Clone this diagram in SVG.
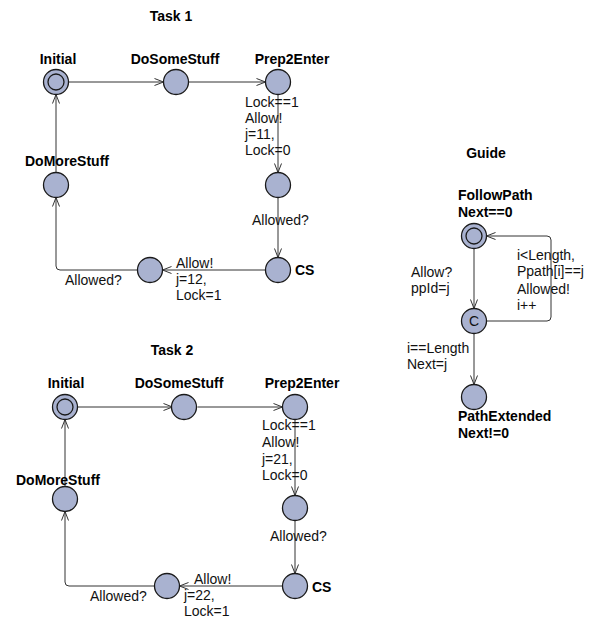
<svg xmlns="http://www.w3.org/2000/svg" width="589" height="619" viewBox="0 0 589 619">
  <style>
    .loc { fill: #a9b2d0; stroke: #1a1a1a; stroke-width: 1.3; }
    .edge { fill: none; stroke: #333; stroke-width: 1; marker-end: url(#arrow); }
    .name { font-family: "Liberation Sans", Arial, sans-serif; font-size: 14px; font-weight: bold; fill: #000; }
    .lbl { font-family: "Liberation Sans", Arial, sans-serif; font-size: 14px; fill: #111; }
    .title { font-family: "Liberation Sans", Arial, sans-serif; font-size: 14px; font-weight: bold; fill: #000; text-anchor: middle; }
  </style>
  <defs>
    <marker id="arrow" markerWidth="12" markerHeight="10" refX="0" refY="0" viewBox="-11 -5 12 10" orient="auto" markerUnits="userSpaceOnUse">
      <path d="M-9,-3.5 L0,0 L-9,3.5" fill="none" stroke="#333" stroke-width="1"/>
    </marker>
  </defs>
  <rect width="589" height="619" fill="#fff"/>

  <!-- Task 1 -->
  <text class="title" x="171" y="21">Task 1</text>
  <g id="connectors">
    <path class="edge" d="M68.5,82 H163.5"/>
    <path class="edge" d="M188.5,82 H265.5"/>
    <path class="edge" d="M278,94.5 V172.5"/>
    <path class="edge" d="M278,197.5 V257.5"/>
    <path class="edge" d="M265.5,270 H162.5"/>
    <path class="edge" d="M137.5,270 H60 Q56,270 56,266 V197.5"/>
    <path class="edge" d="M56,172.5 V94.5"/>

    <path class="edge" d="M77.5,407 H172.5"/>
    <path class="edge" d="M197.5,407 H282.5"/>
    <path class="edge" d="M295,419.5 V495.5"/>
    <path class="edge" d="M295,520.5 V573.5"/>
    <path class="edge" d="M282.5,586 H179.5"/>
    <path class="edge" d="M154.5,586 H69 Q65,586 65,582 V511.5"/>
    <path class="edge" d="M65,486.5 V419.5"/>

    <path class="edge" d="M474,248.5 V308.5"/>
    <path class="edge" d="M486.5,321 H547 Q551,321 551,317 V240 Q551,236 547,236 H486.5"/>
    <path class="edge" d="M474,333.5 V384.5"/>
  </g>

  <g id="t1-labels">
    <text class="lbl" x="245" y="107">Lock==1</text>
    <text class="lbl" x="245" y="123">Allow!</text>
    <text class="lbl" x="245" y="139">j=11,</text>
    <text class="lbl" x="245" y="155">Lock=0</text>
    <text class="lbl" x="252" y="225">Allowed?</text>
    <text class="lbl" x="176" y="268">Allow!</text>
    <text class="lbl" x="176" y="284">j=12,</text>
    <text class="lbl" x="176" y="300">Lock=1</text>
    <text class="lbl" x="65" y="285">Allowed?</text>
  </g>

  <g id="t1-initial">
    <circle class="loc" cx="56" cy="82" r="12.5"/>
    <circle class="loc" cx="56" cy="82" r="8"/>
    <text class="name" x="58" y="64" text-anchor="middle">Initial</text>
  </g>
  <g id="t1-dosomestuff">
    <circle class="loc" cx="176" cy="82" r="12.5"/>
    <text class="name" x="175" y="64" text-anchor="middle">DoSomeStuff</text>
  </g>
  <g id="t1-prep2enter">
    <circle class="loc" cx="278" cy="82" r="12.5"/>
    <text class="name" x="292" y="64" text-anchor="middle">Prep2Enter</text>
  </g>
  <g id="t1-wait">
    <circle class="loc" cx="278" cy="185" r="12.5"/>
  </g>
  <g id="t1-cs">
    <circle class="loc" cx="278" cy="270" r="12.5"/>
    <text class="name" x="295" y="275">CS</text>
  </g>
  <g id="t1-leave">
    <circle class="loc" cx="150" cy="270" r="12.5"/>
  </g>
  <g id="t1-domorestuff">
    <circle class="loc" cx="56" cy="185" r="12.5"/>
    <text class="name" x="67" y="166" text-anchor="middle">DoMoreStuff</text>
  </g>

  <!-- Task 2 -->
  <text class="title" x="172" y="355">Task 2</text>
  <g id="t2-labels">
    <text class="lbl" x="262" y="430">Lock==1</text>
    <text class="lbl" x="262" y="447">Allow!</text>
    <text class="lbl" x="262" y="464">j=21,</text>
    <text class="lbl" x="262" y="480">Lock=0</text>
    <text class="lbl" x="270" y="541">Allowed?</text>
    <text class="lbl" x="194" y="584">Allow!</text>
    <text class="lbl" x="184" y="600">j=22,</text>
    <text class="lbl" x="184" y="616">Lock=1</text>
    <text class="lbl" x="90" y="601">Allowed?</text>
  </g>
  <g id="t2-initial">
    <circle class="loc" cx="65" cy="407" r="12.5"/>
    <circle class="loc" cx="65" cy="407" r="8"/>
    <text class="name" x="66" y="388" text-anchor="middle">Initial</text>
  </g>
  <g id="t2-dosomestuff">
    <circle class="loc" cx="184" cy="407" r="12.5"/>
    <text class="name" x="179" y="388" text-anchor="middle">DoSomeStuff</text>
  </g>
  <g id="t2-prep2enter">
    <circle class="loc" cx="295" cy="407" r="12.5"/>
    <text class="name" x="302" y="388" text-anchor="middle">Prep2Enter</text>
  </g>
  <g id="t2-wait">
    <circle class="loc" cx="295" cy="508" r="12.5"/>
  </g>
  <g id="t2-cs">
    <circle class="loc" cx="295" cy="586" r="12.5"/>
    <text class="name" x="312" y="592">CS</text>
  </g>
  <g id="t2-leave">
    <circle class="loc" cx="167" cy="586" r="12.5"/>
  </g>
  <g id="t2-domorestuff">
    <circle class="loc" cx="65" cy="499" r="12.5"/>
    <text class="name" x="58" y="485" text-anchor="middle">DoMoreStuff</text>
  </g>

  <!-- Guide -->
  <text class="title" x="486" y="158">Guide</text>
  <g id="guide-labels">
    <text class="lbl" x="411" y="277">Allow?</text>
    <text class="lbl" x="411" y="293">ppId=j</text>
    <text class="lbl" x="517" y="260">i&lt;Length,</text>
    <text class="lbl" x="517" y="276">Ppath[i]==j</text>
    <text class="lbl" x="517" y="294">Allowed!</text>
    <text class="lbl" x="517" y="310">i++</text>
    <text class="lbl" x="407" y="353">i==Length</text>
    <text class="lbl" x="407" y="369">Next=j</text>
  </g>
  <g id="guide-followpath">
    <circle class="loc" cx="474" cy="236" r="12.5"/>
    <circle class="loc" cx="474" cy="236" r="8"/>
    <text class="name" x="458" y="200">FollowPath</text>
    <text class="name" x="458" y="217">Next==0</text>
  </g>
  <g id="guide-committed">
    <circle class="loc" cx="474" cy="321" r="12.5"/>
    <text class="lbl" x="474" y="326" text-anchor="middle">C</text>
  </g>
  <g id="guide-pathextended">
    <circle class="loc" cx="474" cy="397" r="12.5"/>
    <text class="name" x="458" y="421">PathExtended</text>
    <text class="name" x="458" y="438">Next!=0</text>
  </g>
</svg>
